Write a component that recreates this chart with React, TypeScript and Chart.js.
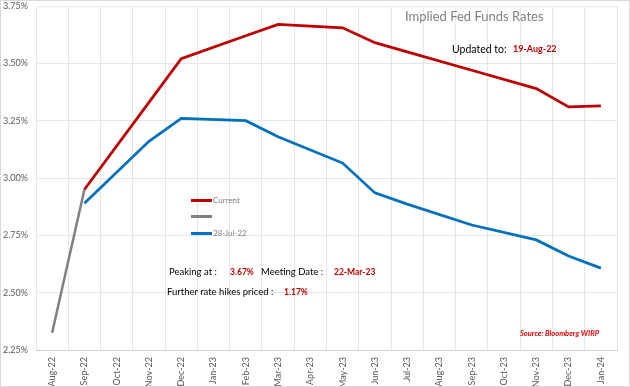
import React, { useEffect, useRef } from "react";
import { Chart, registerables } from "chart.js";

Chart.register(...registerables);

const months = ["Aug-22","Sep-22","Oct-22","Nov-22","Dec-22","Jan-23","Feb-23","Mar-23","Apr-23","May-23","Jun-23","Jul-23","Aug-23","Sep-23","Oct-23","Nov-23","Dec-23","Jan-24"];
const currentRates = [null, 2.95, null, 3.33, 3.52, null, 3.62, 3.67, null, 3.655, 3.59, 3.55, null, 3.47, null, 3.39, 3.31, 3.315];
const spotRates = [2.325, 2.95, null, null, null, null, null, null, null, null, null, null, null, null, null, null, null, null];
const julyRates = [null, 2.89, null, 3.16, 3.26, null, 3.25, 3.18, null, 3.065, 2.935, 2.886, null, 2.795, null, 2.73, 2.66, 2.607];
const yTicks = [2.25, 2.5, 2.75, 3.0, 3.25, 3.5, 3.75];

const FONT = "Lato, 'Open Sans', sans-serif";

function Txt(props: { x: number; y: number; children: React.ReactNode; style?: React.CSSProperties }) {
  return (
    <div
      style={{
        position: "absolute",
        left: props.x,
        top: props.y,
        whiteSpace: "nowrap",
        fontFamily: FONT,
        lineHeight: "14px",
        ...props.style,
      }}
    >
      {props.children}
    </div>
  );
}

function LegendLine(props: { x: number; y: number; color: string }) {
  return (
    <div
      style={{
        position: "absolute",
        left: props.x,
        top: props.y - 1.5,
        width: 21,
        height: 3,
        background: props.color,
      }}
    />
  );
}

export default function App() {
  const ref = useRef<HTMLCanvasElement | null>(null);

  useEffect(() => {
    document.body.style.margin = "0";
    const ctx = ref.current;
    if (!ctx) return;
    const chart = new Chart(ctx, {
      type: "line",
      data: {
        labels: months,
        datasets: [
          {
            label: "",
            data: spotRates,
            borderColor: "#808080",
            borderWidth: 2.5,
            pointRadius: 0,
            spanGaps: true,
            order: 3,
          },
          {
            label: "28-Jul-22",
            data: julyRates,
            borderColor: "#0070C0",
            borderWidth: 2.75,
            pointRadius: 0,
            spanGaps: true,
            order: 2,
          },
          {
            label: "Current",
            data: currentRates,
            borderColor: "#C00000",
            borderWidth: 2.75,
            pointRadius: 0,
            spanGaps: true,
            order: 1,
          },
        ],
      },
      options: {
        animation: false,
        responsive: false,
        maintainAspectRatio: false,
        layout: { padding: { top: 6, right: 13, left: 0, bottom: 0 } },
        plugins: {
          legend: { display: false },
          tooltip: { enabled: false },
          title: { display: false },
        },
        scales: {
          x: {
            type: "category",
            offset: true,
            grid: { offset: true, color: "#e6e6e6", lineWidth: 1, drawTicks: false },
            border: { color: "#d0d0d0" },
            ticks: {
              minRotation: 90,
              maxRotation: 90,
              autoSkip: false,
              padding: 7,
              color: "#595959",
              font: { family: FONT, size: 9 },
            },
            afterFit: (s: any) => {
              s.height = 37;
              s.paddingLeft = 0;
              s.paddingRight = 0;
            },
          },
          y: {
            min: 2.25,
            max: 3.75,
            afterBuildTicks: (s: any) => {
              s.ticks = yTicks.map((v) => ({ value: v }));
            },
            grid: { color: "#e6e6e6", lineWidth: 1, drawTicks: false },
            border: { display: false },
            ticks: {
              padding: 8,
              color: "#595959",
              font: { family: FONT, size: 9 },
              callback: (v: any) => Number(v).toFixed(2) + "%",
            },
            afterFit: (s: any) => {
              s.width = 36;
              s.paddingTop = 0;
              s.paddingBottom = 0;
            },
          },
        },
      },
    });
    return () => chart.destroy();
  }, []);

  return (
    <div style={{ position: "relative", width: 630, height: 387, background: "#fff", overflow: "hidden" }}>
      <canvas ref={ref} width={630} height={387} style={{ position: "absolute", left: 0, top: 0, width: 630, height: 387 }} />
      <div style={{ position: "absolute", left: 0, top: 0, width: 628, height: 385, border: "1px solid #d9d9d9", pointerEvents: "none" }} />
      <Txt x={405} y={9} style={{ fontSize: 13, color: "#808080" }}>Implied Fed Funds Rates</Txt>
      <Txt x={452} y={42} style={{ fontSize: 10.5, color: "#000" }}>Updated to:</Txt>
      <Txt x={513} y={42} style={{ fontSize: 9, color: "#C00000", fontWeight: 700 }}>19-Aug-22</Txt>

      <LegendLine x={191} y={200} color="#C00000" />
      <Txt x={213} y={193} style={{ fontSize: 8, color: "#7f7f7f" }}>Current</Txt>
      <LegendLine x={191} y={216} color="#808080" />
      <LegendLine x={191} y={233} color="#0070C0" />
      <Txt x={213} y={226} style={{ fontSize: 8, color: "#7f7f7f" }}>28-Jul-22</Txt>

      <Txt x={169} y={265} style={{ fontSize: 9.5, color: "#000" }}>Peaking at :</Txt>
      <Txt x={230} y={265} style={{ fontSize: 8.5, color: "#C00000", fontWeight: 700 }}>3.67%</Txt>
      <Txt x={261} y={265} style={{ fontSize: 9.5, color: "#000" }}>Meeting Date :</Txt>
      <Txt x={334} y={265} style={{ fontSize: 8.5, color: "#C00000", fontWeight: 700 }}>22-Mar-23</Txt>
      <Txt x={167} y={285} style={{ fontSize: 9.5, color: "#000" }}>Further rate hikes priced :</Txt>
      <Txt x={284} y={285} style={{ fontSize: 8.5, color: "#C00000", fontWeight: 700 }}>1.17%</Txt>

      <Txt x={520} y={327} style={{ fontSize: 7.5, color: "#E00000", fontWeight: 700, fontStyle: "italic" }}>Source: Bloomberg WIRP</Txt>
    </div>
  );
}
